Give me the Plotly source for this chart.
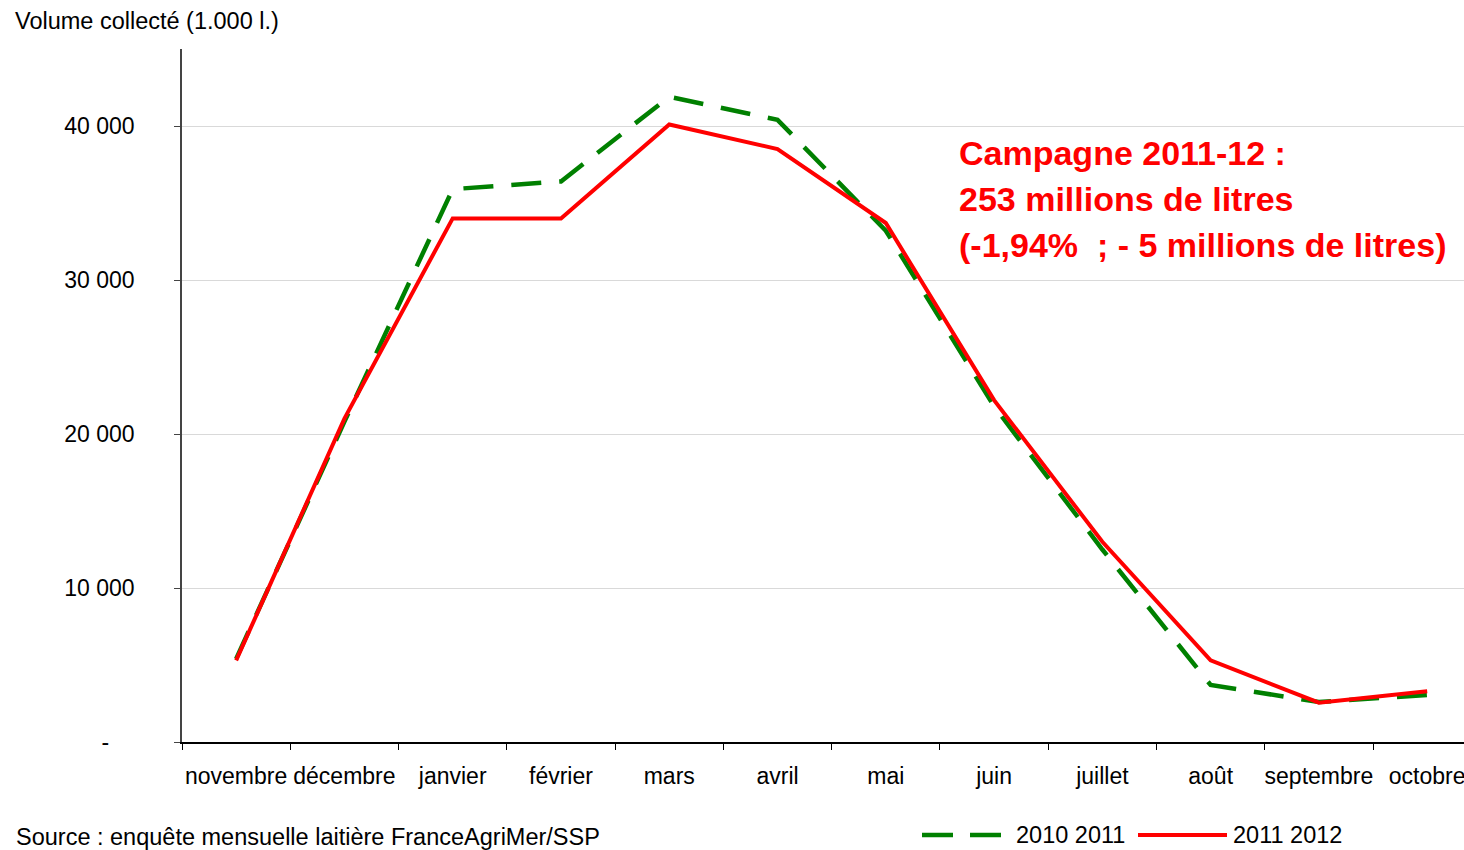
import plotly.graph_objects as go

months = ["novembre", "décembre", "janvier", "février", "mars", "avril",
          "mai", "juin", "juillet", "août", "septembre", "octobre"]
vol_2010_2011 = [5400, 20800, 35900, 36400, 41900, 40400,
                 33200, 21800, 12500, 3700, 2600, 3050]
vol_2011_2012 = [5300, 21000, 34000, 34000, 40100, 38500,
                 33700, 22200, 13000, 5300, 2550, 3300]
series_names = ["2010 2011", "2011 2012"]
y_tickvals = [0, 10000, 20000, 30000, 40000]
y_ticktext = ["-\u00a0\u00a0\u00a0\u00a0", "10 000", "20 000", "30 000", "40 000"]
annotation_lines = ["Campagne 2011-12 :", "253 millions de litres",
                    "(-1,94% \u00a0; - 5 millions de litres)"]

FONT = "Liberation Sans, Arial, sans-serif"
GREEN = "#008000"
RED = "#FF0000"

W, H = 1464, 850
L, T, B, R = 182, 49, 108, 0
PW = W - L - R
PH = H - T - B


def px(x_pixel):
    """picture x pixel -> paper x"""
    return (x_pixel - L) / PW


def py(y_pixel):
    """picture y pixel -> paper y"""
    return 1 - (y_pixel - T) / PH


fig = go.Figure()
fig.add_trace(go.Scatter(
    x=months, y=vol_2010_2011, mode="lines", name=series_names[0],
    line=dict(color=GREEN, width=4.5, dash="30px,18px"), showlegend=False,
))
fig.add_trace(go.Scatter(
    x=months, y=vol_2011_2012, mode="lines", name=series_names[1],
    line=dict(color=RED, width=4), showlegend=False,
))

for i, txt in enumerate(annotation_lines):
    fig.add_annotation(
        text="<b>" + txt + "</b>", xref="paper", yref="paper",
        x=px(957), y=py(153 + 46 * i),
        xanchor="left", yanchor="middle", showarrow=False,
        font=dict(family=FONT, size=34, color=RED),
    )

fig.add_annotation(
    text="Volume collecté (1.000 l.)", xref="paper", yref="paper",
    x=px(13), y=py(21), xanchor="left", yanchor="middle",
    showarrow=False, font=dict(family=FONT, size=23.5, color="#000000"),
)
fig.add_annotation(
    text="Source : enquête mensuelle laitière FranceAgriMer/SSP", xref="paper", yref="paper",
    x=px(14), y=py(837), xanchor="left", yanchor="middle",
    showarrow=False, font=dict(family=FONT, size=23.5, color="#000000"),
)

# custom legend (matches the long line samples of the original)
leg_y = py(835)
fig.add_shape(type="line", xref="paper", yref="paper",
              x0=px(922), x1=px(1001), y0=leg_y, y1=leg_y,
              line=dict(color=GREEN, width=4.5, dash="31px,17px"))
fig.add_annotation(text=series_names[0], xref="paper", yref="paper",
                   x=px(1014), y=leg_y, xanchor="left", yanchor="middle", showarrow=False,
                   font=dict(family=FONT, size=23.5, color="#000000"))
fig.add_shape(type="line", xref="paper", yref="paper",
              x0=px(1138), x1=px(1227), y0=leg_y, y1=leg_y,
              line=dict(color=RED, width=4))
fig.add_annotation(text=series_names[1], xref="paper", yref="paper",
                   x=px(1231), y=leg_y, xanchor="left", yanchor="middle", showarrow=False,
                   font=dict(family=FONT, size=23.5, color="#000000"))

fig.update_layout(
    width=W, height=H,
    margin=dict(l=L, r=R, t=T, b=B, pad=0, autoexpand=False),
    paper_bgcolor="white", plot_bgcolor="white",
    font=dict(family=FONT, size=23, color="#000000"),
    showlegend=False,
    xaxis=dict(
        type="category", categoryorder="array", categoryarray=months,
        range=[-0.5, 11.34], showgrid=False,
        showline=True, linecolor="#000000", linewidth=1.5,
        ticks="outside", tickson="boundaries", ticklen=6, tickcolor="#000000",
        tickfont=dict(family=FONT, size=23), ticklabelstandoff=13,
        tickangle=0, automargin=False,
        zeroline=False, fixedrange=True,
    ),
    yaxis=dict(
        range=[0, 45000], tickvals=y_tickvals, ticktext=y_ticktext,
        showgrid=True, gridcolor="#d9d9d9", gridwidth=1,
        showline=True, linecolor="#444444", linewidth=1.5,
        ticks="outside", ticklen=6, tickcolor="#444444",
        tickfont=dict(family=FONT, size=23), ticklabelstandoff=35,
        automargin=False,
        zeroline=False, fixedrange=True,
    ),
)

fig.write_html(
    "out.html",
    config={"displayModeBar": False},
    post_script="document.body.style.margin='0';document.body.style.overflow='hidden';",
)
